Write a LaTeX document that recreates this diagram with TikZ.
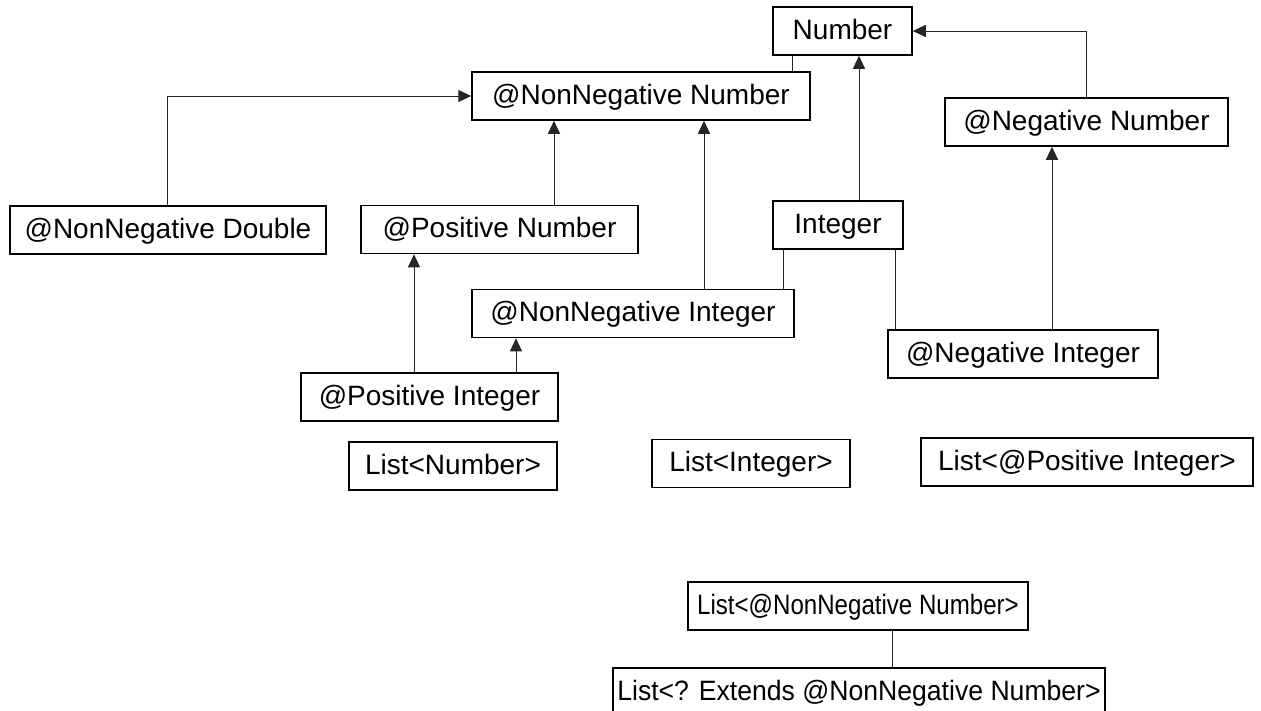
\documentclass[tikz,border=0pt]{standalone}
\usepackage{fontspec}
\setmainfont{Liberation Sans}
\newfontfamily\schmal[FakeStretch=0.86]{Liberation Sans}
\newfontfamily\halbschmal[FakeStretch=0.95]{Liberation Sans}
\usetikzlibrary{arrows.meta}
\begin{document}
\begin{tikzpicture}[x=1pt,y=-1pt,
  typ/.style={draw, line width=1.5pt, inner sep=0pt, minimum height=48pt,
    text height=20pt, text depth=4pt, font=\fontsize{28}{34}\selectfont},
  kante/.style={line width=1pt, black!85},
  erbt/.style={kante, -{Triangle[length=13pt,width=12pt]}}]
\useasboundingbox (0,0) rectangle (1261,710);
% Kaesten
\node[typ, minimum width=139pt] (num) at (842.5,31) {Number};
\node[typ, minimum width=338pt] (nnnum) at (641,96) {@NonNegative Number};
\node[typ, minimum width=283pt] (negnum) at (1086.5,122) {@Negative Number};
\node[typ, minimum width=316pt] (nndbl) at (168,230) {@NonNegative Double};
\node[typ, minimum width=277pt] (posnum) at (499.5,229.5) {@Positive Number};
\node[typ, minimum width=130pt] (int) at (838,225) {Integer};
\node[typ, minimum width=322pt] (nnint) at (633,313.5) {@NonNegative Integer};
\node[typ, minimum width=270pt] (negint) at (1023,354) {@Negative Integer};
\node[typ, minimum width=257pt] (posint) at (429.5,397) {@Positive Integer};
\node[typ, minimum width=208pt] (lnum) at (453,466) {List<Number>};
\node[typ, minimum width=198pt] (lint) at (751,463.5) {List<Integer>};
\node[typ, minimum width=332pt] (lposint) at (1087,462) {List<@Positive Integer>};
\node[typ, minimum width=340pt] (lnn) at (858,606) {\schmal List<@NonNegative Number>};
\node[typ, minimum width=492pt] (lext) at (859,692) {\halbschmal List<? Extends @NonNegative Number>};
% Linien
\draw[kante] (num.south -| 792,0) -- (nnnum.north -| 792,0);
\draw[kante] (int.south -| 783,0) -- (nnint.north -| 783,0);
\draw[kante] (int.south -| 895,0) -- (negint.north -| 895,0);
\draw[kante] (lnn.south -| 892,0) -- (lext.north -| 892,0);
% Pfeile
\draw[erbt] (int.north -| 859,0) -- (num.south -| 859,0);
\draw[erbt] (negnum.north -| 1086,0) |- (num.east);
\draw[erbt] (nndbl.north -| 167,0) |- (nnnum.west);
\draw[erbt] (posnum.north -| 554,0) -- (nnnum.south -| 554,0);
\draw[erbt] (nnint.north -| 704,0) -- (nnnum.south -| 704,0);
\draw[erbt] (negint.north -| 1052,0) -- (negnum.south -| 1052,0);
\draw[erbt] (posint.north -| 414,0) -- (posnum.south -| 414,0);
\draw[erbt] (posint.north -| 516,0) -- (nnint.south -| 516,0);
\end{tikzpicture}
\end{document}
